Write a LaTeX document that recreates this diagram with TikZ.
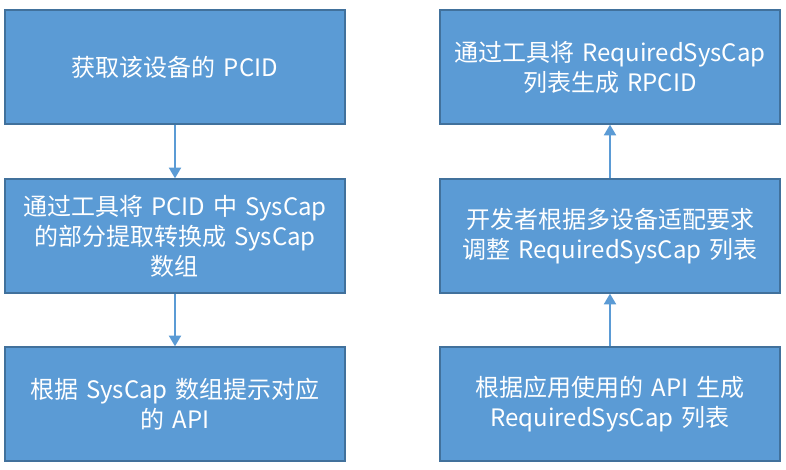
\documentclass[tikz,border=0pt]{standalone}
\usepackage{fontspec}
\setmainfont{Noto Sans CJK SC}
\usetikzlibrary{arrows.meta}
\definecolor{boxfill}{HTML}{5B9BD5}
\definecolor{boxline}{HTML}{41719C}
\begin{document}
\begin{tikzpicture}[x=0.75pt,y=-0.75pt,
  stepbox/.style={draw=boxline,line width=1.5pt,fill=boxfill,inner sep=0pt,
    text=white,font=\fontsize{18}{22.5}\selectfont,align=center,text width=250pt,
    minimum width=255pt,minimum height=85pt},
  conn/.style={draw=boxfill,line width=1.5pt,-{Triangle[width=9pt,length=8pt]}}]
\useasboundingbox (0,0) rectangle (786,470);
\node[stepbox] (a1) at (175,67) {获取该设备的 PCID};
\node[stepbox] (a2) at (175,236) {通过工具将 PCID 中 SysCap\\的部分提取转换成 SysCap\\数组};
\node[stepbox] (a3) at (175,404) {根据 SysCap 数组提示对应\\的 API};
\node[stepbox] (b1) at (610,67) {通过工具将 RequiredSysCap\\列表生成 RPCID};
\node[stepbox] (b2) at (610,236) {开发者根据多设备适配要求\\调整 RequiredSysCap 列表};
\node[stepbox] (b3) at (610,404) {根据应用使用的 API 生成\\RequiredSysCap 列表};
\draw[conn] (a1) -- (a2);
\draw[conn] (a2) -- (a3);
\draw[conn] (b3) -- (b2);
\draw[conn] (b2) -- (b1);
\end{tikzpicture}
\end{document}
